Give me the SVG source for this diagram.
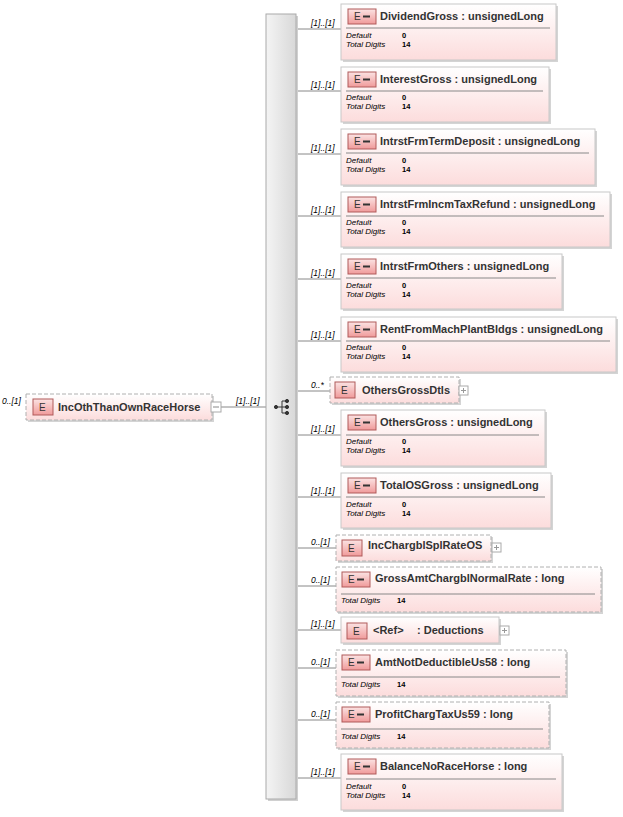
<svg xmlns="http://www.w3.org/2000/svg" width="623" height="817" viewBox="0 0 623 817">
<defs>
<linearGradient id="bg" x1="0" y1="0" x2="0" y2="1"><stop offset="0" stop-color="#ffffff"/><stop offset="1" stop-color="#fcdcdc"/></linearGradient>
<linearGradient id="eb" x1="0" y1="0" x2="0" y2="1"><stop offset="0" stop-color="#fbe3e3"/><stop offset="1" stop-color="#f09a9a"/></linearGradient>
<linearGradient id="seq" x1="0" y1="0" x2="1" y2="0"><stop offset="0" stop-color="#f4f4f4"/><stop offset="1" stop-color="#d8d8d8"/></linearGradient>
</defs>
<style>
.n{fill:url(#bg);stroke:#c8c8c8;stroke-width:1}
.d{stroke-dasharray:4,2;stroke:#b0b0b0}
.sh{fill:#d4d4d4}
.e{fill:url(#eb);stroke:#b05a5a;stroke-width:1}
.t{font-family:"Liberation Sans",Arial,sans-serif;font-size:11px;font-weight:bold;fill:#333}
.et{font-family:"Liberation Sans",Arial,sans-serif;font-size:10px;fill:#333}
.k{font-family:"Liberation Sans",Arial,sans-serif;font-size:8px;font-style:italic;fill:#000}
.v{font-family:"Liberation Sans",Arial,sans-serif;font-size:7.5px;font-weight:bold;fill:#000}
.m{font-family:"Liberation Sans",Arial,sans-serif;font-size:8.5px;font-style:italic;fill:#000}
.ln{stroke:#888;stroke-width:1;fill:none}
.sep{stroke:#888;stroke-width:1}
.pb{fill:#fff;stroke:#aaa}
</style>
<g id="connectors">
<path class="ln" d="M212 407H266"/>
<path class="ln" d="M296 29H341M296 91H341M296 154H341M296 216H341M296 279H341M296 341H341M296 391H330M296 435H341M296 497H341M296 548H336M296 586H336M296 630H341M296 668H336M296 720H336M296 778H341"/>
<text class="m" x="236" y="404">[1]..[1]</text>
<text class="m" x="311" y="26">[1]..[1]</text>
<text class="m" x="311" y="88">[1]..[1]</text>
<text class="m" x="311" y="151">[1]..[1]</text>
<text class="m" x="311" y="213">[1]..[1]</text>
<text class="m" x="311" y="276">[1]..[1]</text>
<text class="m" x="311" y="338">[1]..[1]</text>
<text class="m" x="311" y="388">0..*</text>
<text class="m" x="311" y="432">[1]..[1]</text>
<text class="m" x="311" y="494">[1]..[1]</text>
<text class="m" x="311" y="545">0..[1]</text>
<text class="m" x="311" y="583">0..[1]</text>
<text class="m" x="311" y="627">[1]..[1]</text>
<text class="m" x="311" y="665">0..[1]</text>
<text class="m" x="311" y="717">0..[1]</text>
<text class="m" x="311" y="775">[1]..[1]</text>
</g>
<g id="sequence">
<rect x="268" y="16" width="30" height="785" fill="#d0d0d0"/>
<rect x="266" y="14" width="30" height="785" fill="url(#seq)" stroke="#aaa"/>
<g fill="#333" stroke="#333">
<circle cx="276" cy="407" r="1.6"/><path d="M277 407H282M282 401V413M282 401H286M282 407H286M282 413H286" fill="none"/>
<circle cx="287" cy="401" r="1.6"/><circle cx="287" cy="407" r="1.6"/><circle cx="287" cy="413" r="1.6"/>
</g>
</g>
<g id="root">
<text class="m" x="2" y="404">0..[1]</text>
<rect class="sh" x="28" y="396" width="186" height="26"/>
<rect class="n d" x="26" y="394" width="186" height="26"/>
<rect class="e" x="33" y="399" width="20" height="16"/><text class="et" x="39" y="411">E</text>
<text class="t" x="58" y="411">IncOthThanOwnRaceHorse</text>
<rect class="pb" x="211" y="402" width="10" height="10"/><path d="M213 407H219" stroke="#888"/>
</g>
<g id="DividendGross">
<rect class="sh" x="343" y="6" width="215" height="56"/><rect class="n" x="341" y="4" width="215" height="56"/>
<rect class="e" x="348" y="9" width="28" height="15"/><text class="et" x="354" y="20">E</text><path d="M363 16.5H370" stroke="#333" stroke-width="2"/>
<text class="t" x="380" y="20">DividendGross : unsignedLong</text>
<path class="sep" d="M346 28H550"/>
<text class="k" x="346" y="38">Default</text><text class="v" x="402" y="38">0</text>
<text class="k" x="346" y="47">Total Digits</text><text class="v" x="402" y="47">14</text>
</g>
<g id="InterestGross">
<rect class="sh" x="343" y="69" width="208" height="55"/><rect class="n" x="341" y="67" width="208" height="55"/>
<rect class="e" x="348" y="72" width="28" height="15"/><text class="et" x="354" y="83">E</text><path d="M363 79.5H370" stroke="#333" stroke-width="2"/>
<text class="t" x="380" y="83">InterestGross : unsignedLong</text>
<path class="sep" d="M346 91H543"/>
<text class="k" x="346" y="100">Default</text><text class="v" x="402" y="100">0</text>
<text class="k" x="346" y="109">Total Digits</text><text class="v" x="402" y="109">14</text>
</g>
<g id="IntrstFrmTermDeposit">
<rect class="sh" x="343" y="131" width="254" height="56"/><rect class="n" x="341" y="129" width="254" height="56"/>
<rect class="e" x="348" y="134" width="28" height="15"/><text class="et" x="354" y="145">E</text><path d="M363 141.5H370" stroke="#333" stroke-width="2"/>
<text class="t" x="380" y="145">IntrstFrmTermDeposit : unsignedLong</text>
<path class="sep" d="M346 153H589"/>
<text class="k" x="346" y="163">Default</text><text class="v" x="402" y="163">0</text>
<text class="k" x="346" y="172">Total Digits</text><text class="v" x="402" y="172">14</text>
</g>
<g id="IntrstFrmIncmTaxRefund">
<rect class="sh" x="343" y="194" width="269" height="55"/><rect class="n" x="341" y="192" width="269" height="55"/>
<rect class="e" x="348" y="197" width="28" height="15"/><text class="et" x="354" y="208">E</text><path d="M363 204.5H370" stroke="#333" stroke-width="2"/>
<text class="t" x="380" y="208">IntrstFrmIncmTaxRefund : unsignedLong</text>
<path class="sep" d="M346 216H604"/>
<text class="k" x="346" y="225">Default</text><text class="v" x="402" y="225">0</text>
<text class="k" x="346" y="234">Total Digits</text><text class="v" x="402" y="234">14</text>
</g>
<g id="IntrstFrmOthers">
<rect class="sh" x="343" y="256" width="221" height="55"/><rect class="n" x="341" y="254" width="221" height="55"/>
<rect class="e" x="348" y="259" width="28" height="15"/><text class="et" x="354" y="270">E</text><path d="M363 266.5H370" stroke="#333" stroke-width="2"/>
<text class="t" x="380" y="270">IntrstFrmOthers : unsignedLong</text>
<path class="sep" d="M346 278H556"/>
<text class="k" x="346" y="288">Default</text><text class="v" x="402" y="288">0</text>
<text class="k" x="346" y="297">Total Digits</text><text class="v" x="402" y="297">14</text>
</g>
<g id="RentFromMachPlantBldgs">
<rect class="sh" x="343" y="319" width="275" height="55"/><rect class="n" x="341" y="317" width="275" height="55"/>
<rect class="e" x="348" y="322" width="28" height="15"/><text class="et" x="354" y="333">E</text><path d="M363 329.5H370" stroke="#333" stroke-width="2"/>
<text class="t" x="380" y="333">RentFromMachPlantBldgs : unsignedLong</text>
<path class="sep" d="M346 341H610"/>
<text class="k" x="346" y="350">Default</text><text class="v" x="402" y="350">0</text>
<text class="k" x="346" y="359">Total Digits</text><text class="v" x="402" y="359">14</text>
</g>
<g id="OthersGrossDtls">
<rect class="sh" x="332" y="379" width="129" height="26"/><rect class="n d" x="330" y="377" width="129" height="26"/>
<rect class="e" x="335" y="382" width="20" height="16"/><text class="et" x="341" y="394">E</text>
<text class="t" x="362" y="394">OthersGrossDtls</text>
<rect class="pb" x="459" y="386" width="9" height="9"/><path d="M461 390.5H466M463.5 388V393" stroke="#999"/>
</g>
<g id="OthersGross">
<rect class="sh" x="343" y="412" width="204" height="56"/><rect class="n" x="341" y="410" width="204" height="56"/>
<rect class="e" x="348" y="415" width="28" height="15"/><text class="et" x="354" y="426">E</text><path d="M363 422.5H370" stroke="#333" stroke-width="2"/>
<text class="t" x="380" y="426">OthersGross : unsignedLong</text>
<path class="sep" d="M346 435H539"/>
<text class="k" x="346" y="444">Default</text><text class="v" x="402" y="444">0</text>
<text class="k" x="346" y="453">Total Digits</text><text class="v" x="402" y="453">14</text>
</g>
<g id="TotalOSGross">
<rect class="sh" x="343" y="475" width="210" height="55"/><rect class="n" x="341" y="473" width="210" height="55"/>
<rect class="e" x="348" y="478" width="28" height="15"/><text class="et" x="354" y="489">E</text><path d="M363 485.5H370" stroke="#333" stroke-width="2"/>
<text class="t" x="380" y="489">TotalOSGross : unsignedLong</text>
<path class="sep" d="M346 497H545"/>
<text class="k" x="346" y="507">Default</text><text class="v" x="402" y="507">0</text>
<text class="k" x="346" y="516">Total Digits</text><text class="v" x="402" y="516">14</text>
</g>
<g id="IncChargblSplRateOS">
<rect class="sh" x="338" y="537" width="155" height="26"/><rect class="n d" x="336" y="535" width="155" height="26"/>
<rect class="e" x="342" y="540" width="20" height="16"/><text class="et" x="348" y="552">E</text>
<text class="t" x="368" y="549">IncChargblSplRateOS</text>
<rect class="pb" x="492" y="543" width="9" height="9"/><path d="M494 547.5H499M496.5 545V550" stroke="#999"/>
</g>
<g id="GrossAmtChargblNormalRate">
<rect class="sh" x="338" y="569" width="265" height="45"/><rect class="n d" x="336" y="567" width="265" height="45"/>
<rect class="e" x="342" y="572" width="28" height="15"/><text class="et" x="348" y="583">E</text><path d="M357 579.5H364" stroke="#333" stroke-width="2"/>
<text class="t" x="375" y="582">GrossAmtChargblNormalRate : long</text>
<path class="sep" d="M341 594H595"/>
<text class="k" x="341" y="603">Total Digits</text><text class="v" x="397" y="603">14</text>
</g>
<g id="Deductions">
<rect class="sh" x="343" y="619" width="158" height="26"/><rect class="n" x="341" y="617" width="158" height="26"/>
<rect class="e" x="347" y="623" width="20" height="16"/><text class="et" x="353" y="635">E</text>
<text class="t" x="373" y="634">&lt;Ref&gt;</text><text class="t" x="417" y="634">: Deductions</text>
<rect class="pb" x="500" y="626" width="9" height="9"/><path d="M502 630.5H507M504.5 628V633" stroke="#999"/>
</g>
<g id="AmtNotDeductibleUs58">
<rect class="sh" x="338" y="652" width="230" height="46"/><rect class="n d" x="336" y="650" width="230" height="46"/>
<rect class="e" x="342" y="655" width="28" height="15"/><text class="et" x="348" y="666">E</text><path d="M357 662.5H364" stroke="#333" stroke-width="2"/>
<text class="t" x="375" y="666">AmtNotDeductibleUs58 : long</text>
<path class="sep" d="M341 677H560"/>
<text class="k" x="341" y="687">Total Digits</text><text class="v" x="397" y="687">14</text>
</g>
<g id="ProfitChargTaxUs59">
<rect class="sh" x="338" y="704" width="213" height="46"/><rect class="n d" x="336" y="702" width="213" height="46"/>
<rect class="e" x="342" y="707" width="28" height="15"/><text class="et" x="348" y="718">E</text><path d="M357 714.5H364" stroke="#333" stroke-width="2"/>
<text class="t" x="375" y="718">ProfitChargTaxUs59 : long</text>
<path class="sep" d="M341 729H543"/>
<text class="k" x="341" y="739">Total Digits</text><text class="v" x="397" y="739">14</text>
</g>
<g id="BalanceNoRaceHorse">
<rect class="sh" x="343" y="756" width="221" height="56"/><rect class="n" x="341" y="754" width="221" height="56"/>
<rect class="e" x="348" y="759" width="28" height="15"/><text class="et" x="354" y="770">E</text><path d="M363 766.5H370" stroke="#333" stroke-width="2"/>
<text class="t" x="380" y="770">BalanceNoRaceHorse : long</text>
<path class="sep" d="M346 779H556"/>
<text class="k" x="346" y="789">Default</text><text class="v" x="402" y="789">0</text>
<text class="k" x="346" y="798">Total Digits</text><text class="v" x="402" y="798">14</text>
</g>
</svg>
